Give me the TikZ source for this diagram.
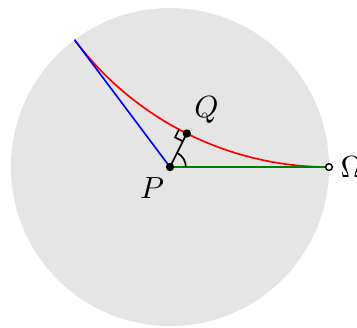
\documentclass[tikz,border=0pt]{standalone}
\usetikzlibrary{calc}
\usetikzlibrary{positioning}
\begin{document}
\begin{tikzpicture}[
    dot/.style={circle, fill=black, inner sep=0pt, minimum size=0.105cm},
    ideal/.style={circle, draw=black, fill=white, line width=0.5pt, inner sep=0pt, minimum size=0.085cm},
    geo/.style={line width=0.6pt},
    lbl/.style={font=\fontsize{11pt}{13pt}\selectfont},
    ]
    \useasboundingbox (-2.138,-2.013) rectangle (2.352,2.101);
    
    % Poincare disk
    \fill [gray!20] (0,0) circle (2);
    
    % Points
    \coordinate (P) at (0,0);
    \coordinate (Q) at (0.2111,0.4222);
    \coordinate (Omega) at (2,0);
    \coordinate (A) at (-1.2,1.6);
    
    % Geodesic through Q, ending in Omega and A
    \draw [geo, red] (Omega) arc [start angle=-90, end angle=-143.13, radius=4];
    
    % Parallel ray and perpendicular
    \draw [geo, blue] (P) -- (A);
    \draw [geo, green!50!black] (P) -- (Omega);
    \draw [geo] (P) -- (Q);
    
    % Right angle at Q
    \draw [geo] (Q) ++(243.43:0.11) -- ++(153.43:0.11) -- ++(63.43:0.11);
    
    % Angle of parallelism at P
    \draw [geo] (P) ++(0:0.2) arc [start angle=0, end angle=63.43, radius=0.2];
    
    % Dots
    \node [dot] (p) at (P) {};
    \node [dot] (q) at (Q) {};
    \node [ideal] (o) at (Omega) {};
    
    % Labels
    \node [lbl, below left=-0.03cm and -0.09cm of p] {$P$};
    \node [lbl, above right=-0.04cm and -0.07cm of q] {$Q$};
    \node [lbl, right=-0.03cm of o] {$\Omega$};

\end{tikzpicture}
\end{document}
